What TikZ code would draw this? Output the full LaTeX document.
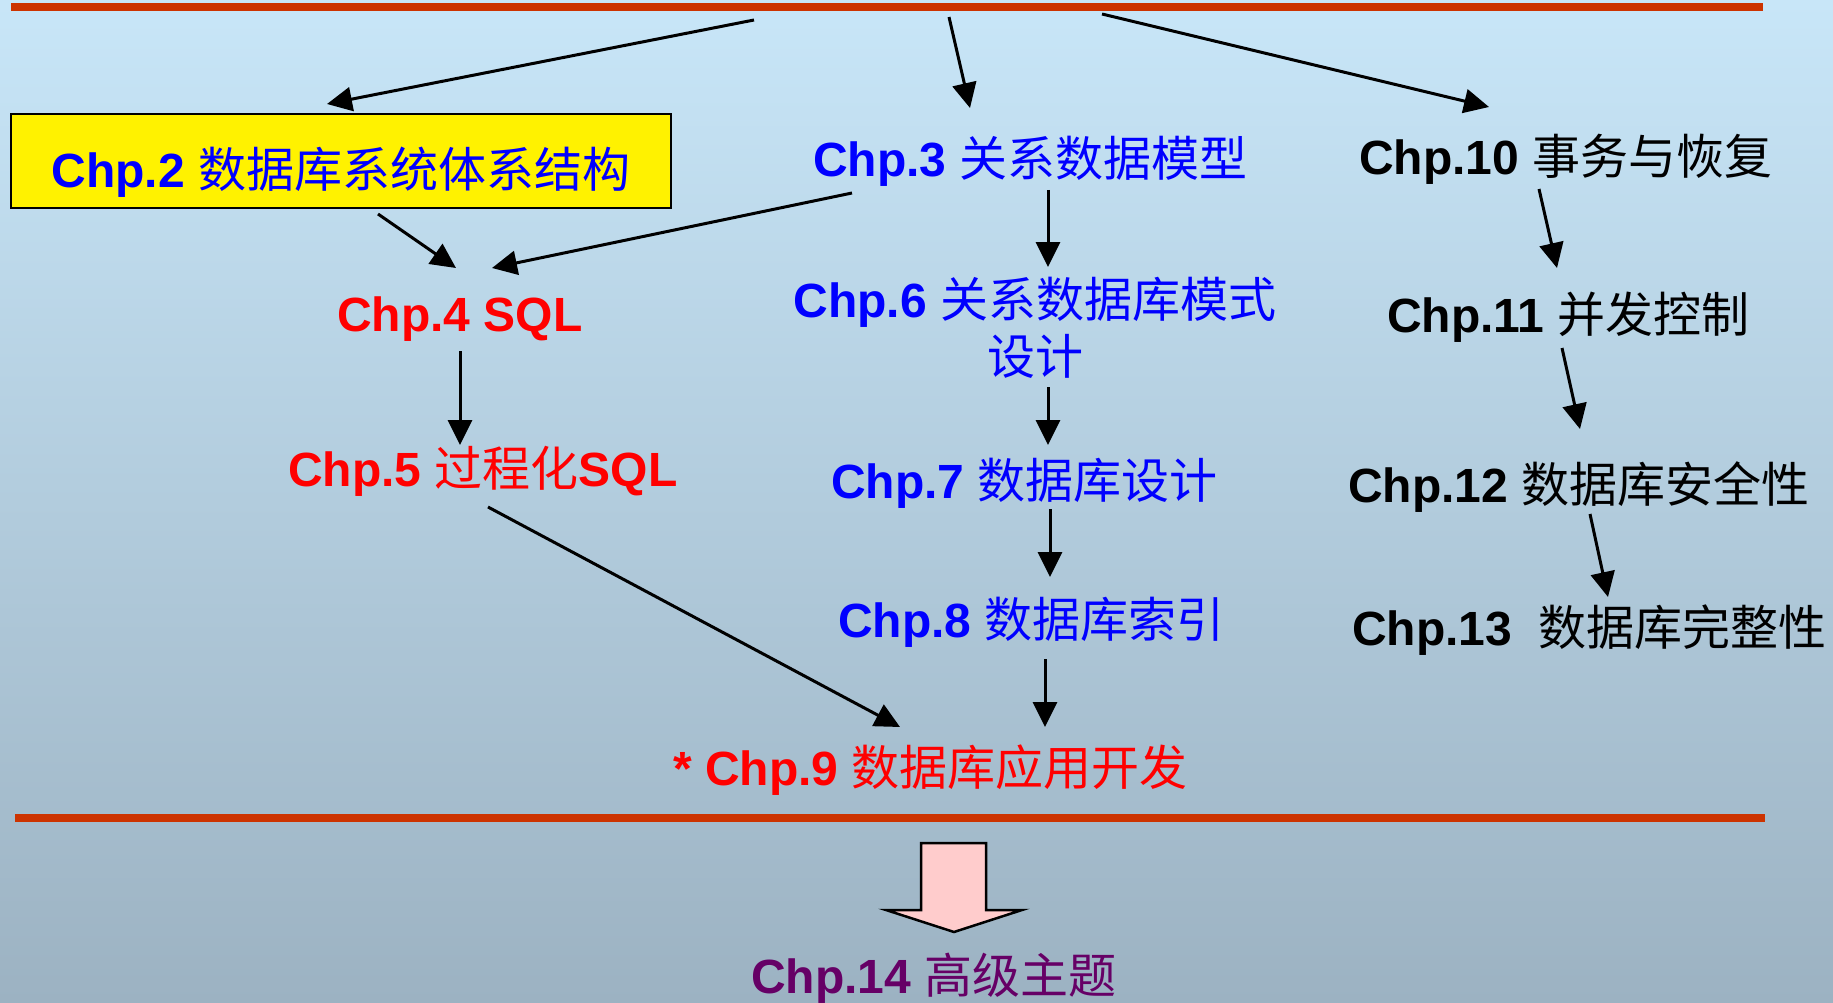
\documentclass[tikz,border=0pt]{standalone}
\usepackage{fontspec}
\setmainfont{Liberation Sans}
\newfontfamily\cjkfont{Noto Sans CJK SC}
\usetikzlibrary{arrows.meta}
\newcommand\zhs[1]{{\cjkfont\mdseries #1}}
\definecolor{cblue}{RGB}{0,0,255}
\definecolor{cred}{RGB}{255,0,0}
\definecolor{cpurple}{RGB}{102,0,102}
\definecolor{redline}{RGB}{204,51,0}
\definecolor{bgtop}{RGB}{200,230,248}
\definecolor{bgbot}{RGB}{156,178,194}
\definecolor{pinkfill}{RGB}{255,204,204}
\begin{document}
\begin{tikzpicture}[x=1pt,y=-1pt,
  lbl/.style={anchor=base west, inner sep=0pt, font=\fontsize{48}{57}\selectfont\bfseries},
  arr/.style={line width=3pt, -{Triangle[length=25pt,width=24pt]}},
  chbox/.style={draw=black, line width=2pt, fill=yellow, inner xsep=0pt, inner ysep=0pt,
    minimum width=660pt, text height=74pt, text depth=20pt, anchor=base,
    font=\fontsize{48}{57}\selectfont\bfseries, text=cblue},
  redbar/.style={fill=redline},
  bigarrow/.style={draw=black, line width=2.5pt, fill=pinkfill, line join=miter}
]
\useasboundingbox (0,0) rectangle (1833,1003);
\shade[top color=bgtop, bottom color=bgbot] (0,0) rectangle (1833,1003);

% red bars
\fill[redbar] (11,3) rectangle (1763,11);
\fill[redbar] (15,814) rectangle (1765,822);

% nodes
\node[chbox] (n2) at (341,188) {Chp.2 \zhs{数据库系统体系结构}};
\node[lbl, text=cblue] (n3) at (813,177) {Chp.3 \zhs{关系数据模型}};
\node[lbl] (n10) at (1359,175) {Chp.10 \zhs{事务与恢复}};
\node[lbl, text=cred] (n4) at (337,331) {Chp.4 SQL};
\node[lbl, text=cblue, anchor=base, align=center] (n6) at (1035,374) {Chp.6 \zhs{关系数据库模式}\\\zhs{设计}};
\node[lbl] (n11) at (1387,332) {Chp.11 \zhs{并发控制}};
\node[lbl, text=cred] (n5) at (288,486) {Chp.5 \zhs{过程化}SQL};
\node[lbl, text=cblue] (n7) at (831,498) {Chp.7 \zhs{数据库设计}};
\node[lbl] (n12) at (1348,502) {Chp.12 \zhs{数据库安全性}};
\node[lbl, text=cblue] (n8) at (838,637) {Chp.8 \zhs{数据库索引}};
\node[lbl] (n13) at (1352,645) {Chp.13\ \ \zhs{数据库完整性}};
\node[lbl, text=cred] (n9) at (673,785) {* Chp.9 \zhs{数据库应用开发}};
\node[lbl, text=cpurple] (n14) at (751,993) {Chp.14 \zhs{高级主题}};

% connector end points
\coordinate (t1) at (754,20);   \coordinate (h1) at (327,104);
\coordinate (t2) at (949,17);   \coordinate (h2) at (970,108);
\coordinate (t3) at (1102,14);  \coordinate (h3) at (1489,107);
\coordinate (s24) at (378,214); \coordinate (e24) at (456,268);
\coordinate (s34) at (852,193); \coordinate (e34) at (492,268);
\coordinate (s36) at (1048,190);\coordinate (e36) at (1048,267);
\coordinate (s1011) at (1539,189); \coordinate (e1011) at (1557,268);
\coordinate (s45) at (460,351); \coordinate (e45) at (460,445);
\coordinate (s67) at (1048,387);\coordinate (e67) at (1048,445);
\coordinate (s78) at (1050,509);\coordinate (e78) at (1050,577);
\coordinate (s89) at (1045,659);\coordinate (e89) at (1045,727);
\coordinate (s59) at (488,507); \coordinate (e59) at (900,727);
\coordinate (s1112) at (1562,348); \coordinate (e1112) at (1580,429);
\coordinate (s1213) at (1590,514); \coordinate (e1213) at (1608,597);

\draw[arr] (t1) -- (h1);
\draw[arr] (t2) -- (h2);
\draw[arr] (t3) -- (h3);
\draw[arr] (s24) -- (e24);
\draw[arr] (s34) -- (e34);
\draw[arr] (s36) -- (e36);
\draw[arr] (s1011) -- (e1011);
\draw[arr] (s45) -- (e45);
\draw[arr] (s67) -- (e67);
\draw[arr] (s78) -- (e78);
\draw[arr] (s89) -- (e89);
\draw[arr] (s59) -- (e59);
\draw[arr] (s1112) -- (e1112);
\draw[arr] (s1213) -- (e1213);

% big block arrow
\draw[bigarrow] (921,843) -- (986,843) -- (986,910) -- (1022,910) -- (954,932) -- (886,910) -- (921,910) -- cycle;
\end{tikzpicture}
\end{document}
